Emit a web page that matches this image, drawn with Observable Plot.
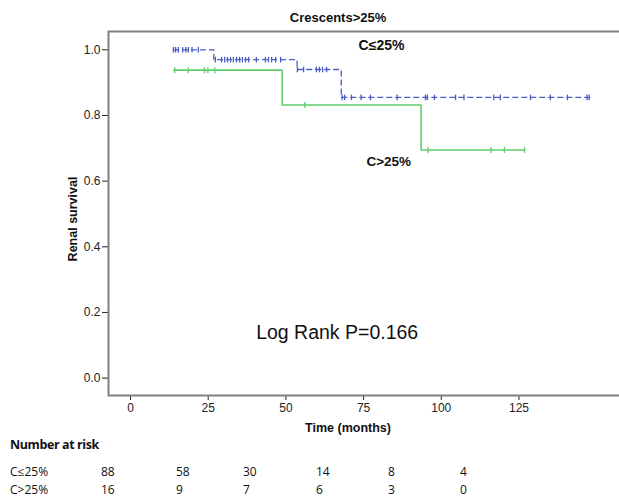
<!DOCTYPE html>
<html>
<head>
<meta charset="utf-8">
<script src="https://cdn.jsdelivr.net/npm/d3@7"></script>
<script src="https://cdn.jsdelivr.net/npm/@observablehq/plot@0.6"></script>
<style>
  html, body { margin: 0; padding: 0; background: #fff; }
  #wrap { position: relative; width: 619px; height: 497px; overflow: hidden; font-family: "Liberation Sans", Arial, sans-serif; }
  #wrap svg { position: absolute; left: 0; top: 0; max-width: none !important; }
  .abs { position: absolute; white-space: nowrap; color: #111; }
  .risk { font-family: "Open Sans", "Noto Sans", sans-serif; font-size: 12px; line-height: 12px; color: #111; }
</style>
</head>
<body>
<div id="wrap"></div>
<script>
// ---- Data ----
const chartTitle = "Crescents>25%";
const xLabel = "Time (months)";
const yLabel = "Renal survival";
const xTicks = [0, 25, 50, 75, 100, 125];
const yTicks = [0.0, 0.2, 0.4, 0.6, 0.8, 1.0];

// KM step curves (time, survival)
const lowTimes = [13.8, 26.8, 53.6, 67.8, 147.8];
const lowSurv  = [1.0, 0.97, 0.94, 0.855, 0.855];
const lowCensor = [13.8, 14.5, 15.4, 16.8, 17.8, 18.6, 19.8, 21.8,
  27.3, 29.3, 30.3, 31.2, 32.2, 33.1, 34.1, 35.1, 36.0, 37.0, 38.0, 40.5, 43.4, 44.4, 45.4, 46.7, 48.3,
  53.7, 55.7, 59.8, 60.8, 61.8, 63.1,
  68.1, 68.9, 71.1, 74.2, 77.2, 85.8, 94.9, 95.5, 97.8, 104.6, 107.3, 116.9, 119.0, 128.7, 135.1, 140.6, 146.9, 147.6];

const highTimes = [14.0, 48.8, 93.5, 126.8];
const highSurv  = [0.938, 0.832, 0.695, 0.695];
const highCensor = [14.2, 18.6, 23.8, 24.9, 27.1, 56.1, 95.7, 116.0, 120.3, 126.8];

// In-plot annotations
const annoText = ["C≤25%", "C>25%", "Log Rank P=0.166"];
const annoX = [73.4, 75.9, 66.5];
const annoY = [1.013, 0.66, 0.137];

// Number at risk table
const riskTitle = "Number at risk";
const riskGroups = ["C≤25%", "C>25%"];
const riskLow  = [88, 58, 30, 14, 8, 4];
const riskHigh = [16, 9, 7, 6, 3, 0];

// ---- Build tables ----
const curveLow = lowTimes.map((t, i) => ({t, s: lowSurv[i]}));
const curveHigh = highTimes.map((t, i) => ({t, s: highSurv[i]}));
function stepAt(times, surv, t) {
  let v = surv[0];
  for (let i = 0; i < times.length; i++) if (t >= times[i] - 1e-9) v = surv[i];
  return v;
}
const censLow = lowCensor.map(t => ({t, s: stepAt(lowTimes, lowSurv, t)}));
const censHigh = highCensor.map(t => ({t, s: stepAt(highTimes, highSurv, t)}));
const annos = annoText.map((text, i) => ({text, x: annoX[i], y: annoY[i]}));

const vbar = {
  draw(ctx, size) {
    const r = Math.sqrt(size / Math.PI);
    ctx.moveTo(0, -r);
    ctx.lineTo(0, r);
  }
};

const blue = "#4a5ec6";
const green = "#62d06f";
const frameColor = "#808080";

const chart = Plot.plot({
  width: 640,
  height: 436,
  marginLeft: 108,
  marginRight: 0,
  marginTop: 31,
  marginBottom: 41,
  style: {fontFamily: "'Liberation Sans', Arial, sans-serif", fontSize: "12px", color: "#222", background: "transparent", maxWidth: "none"},
  x: {domain: [-7.08, 164.1], ticks: xTicks, tickSize: 5, tickPadding: 3, label: null},
  y: {domain: [-0.053, 1.0558], ticks: yTicks, tickSize: 6, tickPadding: 2, tickFormat: d3.format(".1f"), label: null},
  marks: [
    Plot.frame({stroke: frameColor, strokeWidth: 2}),
    Plot.line(curveLow, {x: "t", y: "s", curve: "step-after", stroke: blue, strokeWidth: 1.3, strokeDasharray: "5,4"}),
    Plot.line(curveHigh, {x: "t", y: "s", curve: "step-after", stroke: green, strokeWidth: 1.6}),
    Plot.dot(censLow, {x: "t", y: "s", symbol: vbar, r: 2.8, stroke: blue, strokeWidth: 1.3, fill: "none"}),
    Plot.dot(censHigh, {x: "t", y: "s", symbol: vbar, r: 3, stroke: green, strokeWidth: 1.4, fill: "none"}),
    Plot.text(annos.slice(0, 1), {x: "x", y: "y", text: "text", textAnchor: "start", fontWeight: "bold", fontSize: 14, fill: "#111"}),
    Plot.text(annos.slice(1, 2), {x: "x", y: "y", text: "text", textAnchor: "start", fontWeight: "bold", fontSize: 13.5, fill: "#111"}),
    Plot.text(annos.slice(2), {x: "x", y: "y", text: "text", textAnchor: "middle", fontSize: 19.5, fill: "#111"})
  ]
});

const wrap = document.getElementById("wrap");
wrap.appendChild(chart);

function addText(txt, style, cls) {
  const d = document.createElement("div");
  d.className = "abs" + (cls ? " " + cls : "");
  d.textContent = txt;
  Object.assign(d.style, style);
  wrap.appendChild(d);
  return d;
}
// title
addText(chartTitle, {left: "338px", top: "10px", transform: "translateX(-50%)", fontWeight: "bold", fontSize: "13px"});
// axis labels
addText(xLabel, {left: "348px", top: "421px", transform: "translateX(-50%)", fontWeight: "bold", fontSize: "12.5px"});
addText(yLabel, {left: "73px", top: "219px", transform: "translate(-50%,-50%) rotate(-90deg)", fontWeight: "bold", fontSize: "12.5px"});

// risk table
const colX = [101, 176, 243, 316, 388, 460];
addText(riskTitle, {left: "10px", top: "438px", fontWeight: "bold", fontSize: "12.5px", letterSpacing: "-0.4px", lineHeight: "14px"}, "risk");
[riskLow, riskHigh].forEach((row, r) => {
  const top = (r === 0 ? 466 : 484) + "px";
  addText(riskGroups[r], {left: "10px", top}, "risk");
  row.forEach((v, i) => addText(String(v), {left: colX[i] + "px", top}, "risk"));
});
</script>
</body>
</html>
